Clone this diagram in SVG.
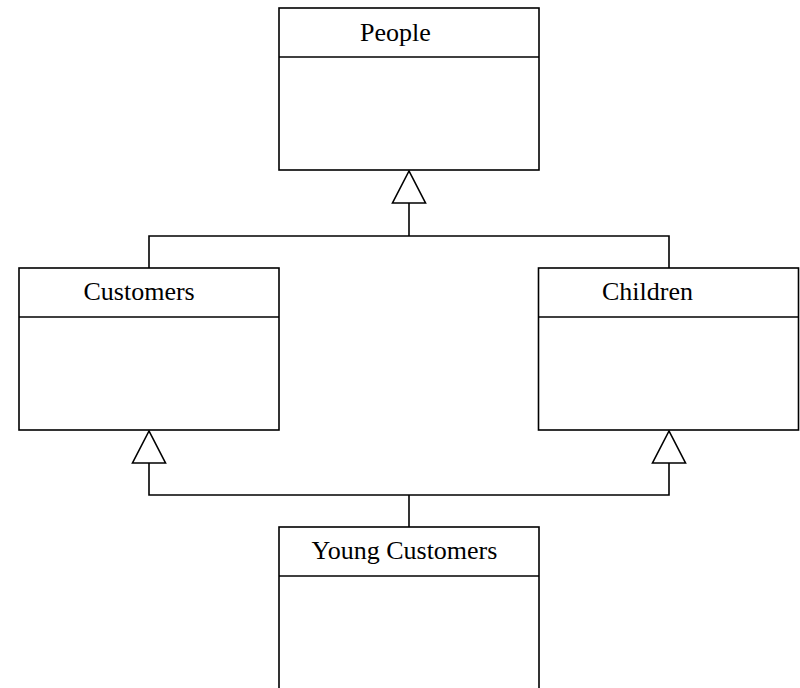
<svg xmlns="http://www.w3.org/2000/svg" width="800" height="688" viewBox="0 0 800 688">
<style>
.box{fill:#fff;stroke:#000;stroke-width:1.6}
.sep{stroke:#000;stroke-width:1.6}
.lbl{font-family:"Liberation Serif","Times New Roman",serif;font-size:26px;fill:#000}
.ln{fill:none;stroke:#000;stroke-width:1.6}
.tri{fill:#fff;stroke:#000;stroke-width:1.6}
</style>
<rect width="800" height="688" fill="#fff"/>
<g id="connectors">
<polyline class="ln" points="409,203 409,236"/>
<polyline class="ln" points="149,268 149,236 669,236 669,268"/>
<polygon class="tri" points="409,171 392.5,203 425.5,203"/>
<polyline class="ln" points="149,463 149,495 669,495 669,463"/>
<polyline class="ln" points="409,495 409,527"/>
<polygon class="tri" points="149,431 132.5,463 165.5,463"/>
<polygon class="tri" points="669,431 652.5,463 685.5,463"/>
</g>
<g id="people">
<rect class="box" x="279" y="8" width="260" height="162"/>
<line class="sep" x1="279" y1="57" x2="539" y2="57"/>
<text class="lbl" x="360" y="41">People</text>
</g>
<g id="customers">
<rect class="box" x="19" y="268" width="260" height="162"/>
<line class="sep" x1="19" y1="317" x2="279" y2="317"/>
<text class="lbl" x="83.5" y="300">Customers</text>
</g>
<g id="children">
<rect class="box" x="538.5" y="268" width="260" height="162"/>
<line class="sep" x1="538.5" y1="317" x2="798.5" y2="317"/>
<text class="lbl" x="602" y="300">Children</text>
</g>
<g id="young-customers">
<rect class="box" x="279" y="527" width="260" height="175"/>
<line class="sep" x1="279" y1="576" x2="539" y2="576"/>
<text class="lbl" x="311.5" y="559">Young Customers</text>
</g>
</svg>
